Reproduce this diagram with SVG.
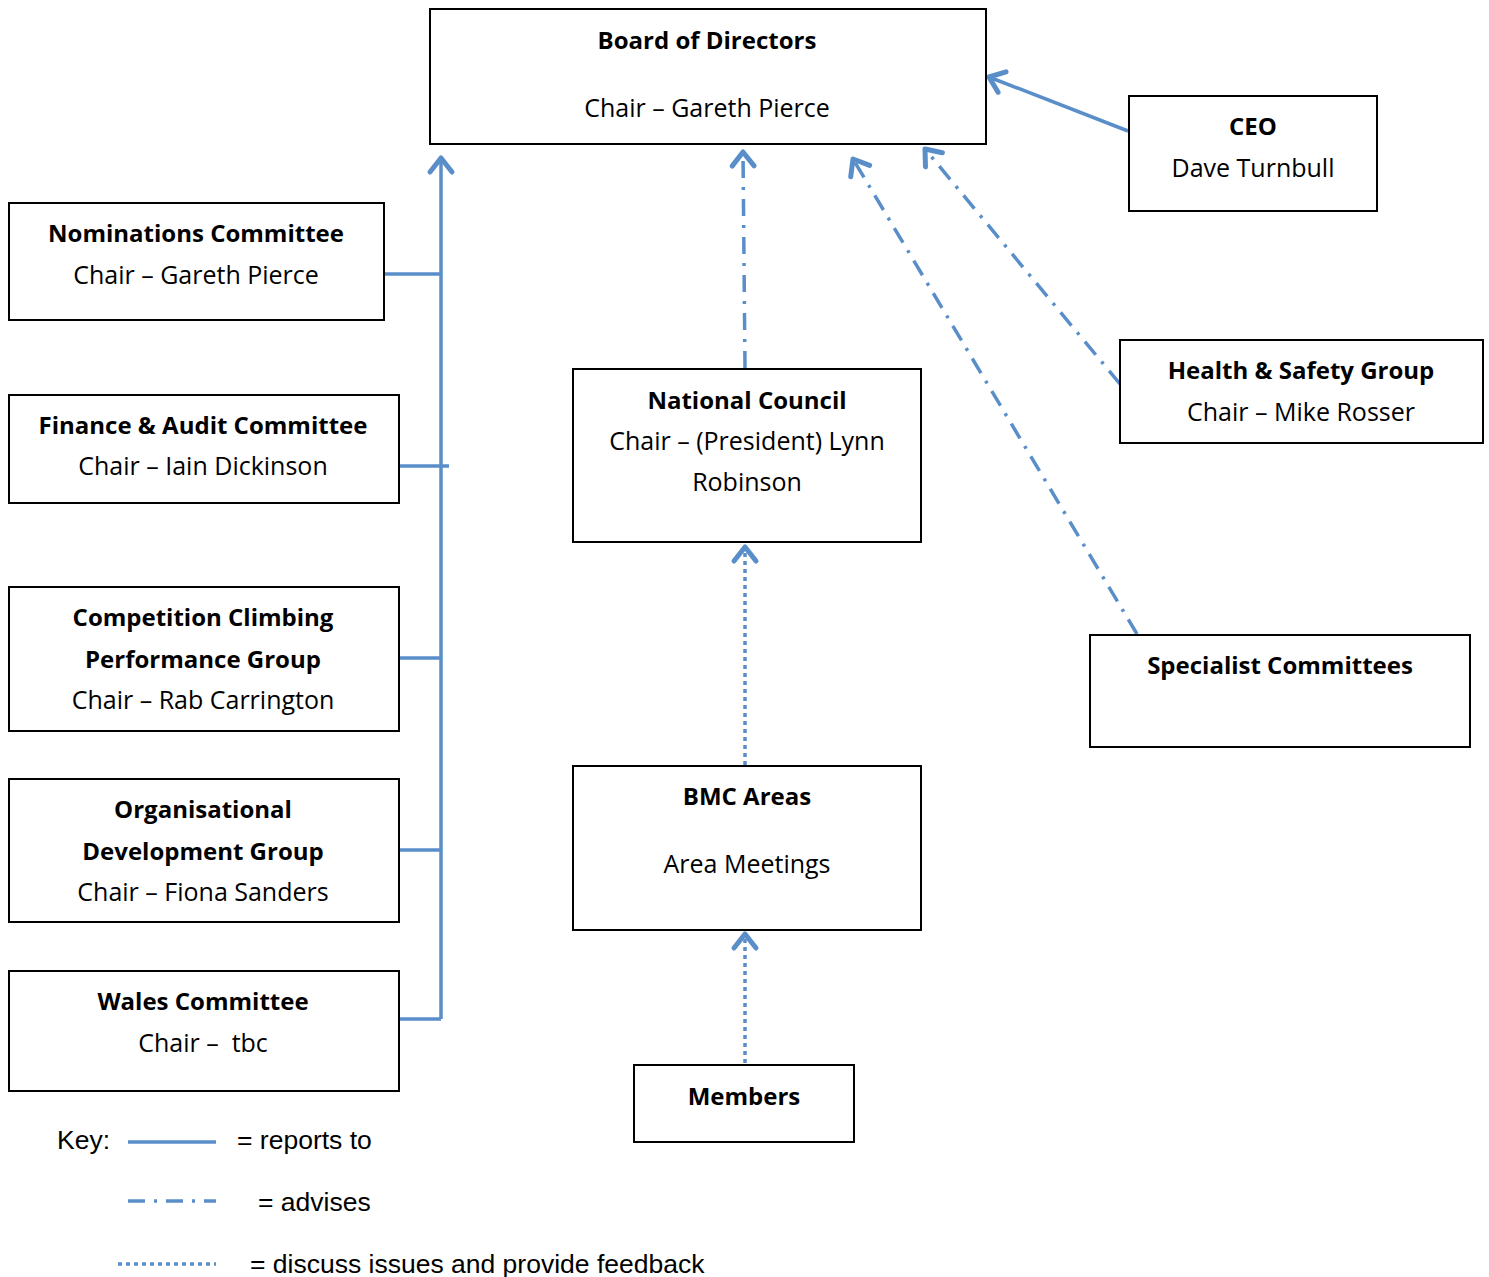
<svg xmlns="http://www.w3.org/2000/svg" width="1489" height="1277" viewBox="0 0 1489 1277">
<style>
.box{fill:#fff;stroke:#000;stroke-width:2}
.t{font-family:"Open Sans",Lato,"Liberation Sans",sans-serif;font-size:25px;fill:#000;text-anchor:middle;dominant-baseline:central}
.b{font-weight:bold;font-size:24px}
.k{font-family:"Liberation Sans",Arial,sans-serif;font-size:26.5px;fill:#000;dominant-baseline:central}
.c{fill:none;stroke:#5a8ec9;stroke-width:3.5}
.dd{stroke-dasharray:17 9 3 9}
.dot{stroke-dasharray:4 4}
</style>
<defs>
<marker id="ah" markerUnits="userSpaceOnUse" markerWidth="40" markerHeight="40" refX="0" refY="0" viewBox="-20 -20 40 40" orient="auto" overflow="visible">
<path d="M-14,-11 L0,0 L-14,11" fill="none" stroke="#5a8ec9" stroke-width="5" stroke-linecap="round" stroke-linejoin="round"/>
</marker>
</defs>
<rect width="1489" height="1277" fill="#fff"/>
<g id="connectors">
<path class="c" d="M441,1019 V158" marker-end="url(#ah)"/>
<path class="c" d="M370,274 H441"/>
<path class="c" d="M394,466 H449"/>
<path class="c" d="M394,658 H441"/>
<path class="c" d="M394,850 H441"/>
<path class="c" d="M394,1019 H441"/>
<path class="c" d="M1128,131 L989,77" marker-end="url(#ah)"/>
<path class="c dd" d="M745,368 L743,152" marker-end="url(#ah)"/>
<path class="c dd" d="M1137,634 L853,159" marker-end="url(#ah)"/>
<path class="c dd" d="M1120,384 L925,149" marker-end="url(#ah)"/>
<path class="c dot" d="M745,765 V547" marker-end="url(#ah)"/>
<path class="c dot" d="M745,1063 V934" marker-end="url(#ah)"/>
</g>
<g id="board"><rect class="box" x="430" y="9" width="556" height="135"/>
<text class="t b" x="707" y="39">Board of Directors</text>
<text class="t" x="707" y="107">Chair – Gareth Pierce</text></g>
<g id="ceo"><rect class="box" x="1129" y="96" width="248" height="115"/>
<text class="t b" x="1253" y="125">CEO</text>
<text class="t" x="1253" y="167">Dave Turnbull</text></g>
<g id="nominations"><rect class="box" x="9" y="203" width="375" height="117"/>
<text class="t b" x="196" y="232">Nominations Committee</text>
<text class="t" x="196" y="274">Chair – Gareth Pierce</text></g>
<g id="finance"><rect class="box" x="9" y="395" width="390" height="108"/>
<text class="t b" x="203" y="424">Finance &amp; Audit Committee</text>
<text class="t" x="203" y="465">Chair – Iain Dickinson</text></g>
<g id="competition"><rect class="box" x="9" y="587" width="390" height="144"/>
<text class="t b" x="203" y="616">Competition Climbing</text>
<text class="t b" x="203" y="658">Performance Group</text>
<text class="t" x="203" y="699">Chair – Rab Carrington</text></g>
<g id="orgdev"><rect class="box" x="9" y="779" width="390" height="143"/>
<text class="t b" x="203" y="808">Organisational</text>
<text class="t b" x="203" y="850">Development Group</text>
<text class="t" x="203" y="891">Chair – Fiona Sanders</text></g>
<g id="wales"><rect class="box" x="9" y="971" width="390" height="120"/>
<text class="t b" x="203" y="1000">Wales Committee</text>
<text class="t" x="203" y="1042" xml:space="preserve">Chair –  tbc</text></g>
<g id="national-council"><rect class="box" x="573" y="369" width="348" height="173"/>
<text class="t b" x="747" y="399">National Council</text>
<text class="t" x="747" y="440">Chair – (President) Lynn</text>
<text class="t" x="747" y="481">Robinson</text></g>
<g id="health-safety"><rect class="box" x="1120" y="340" width="363" height="103"/>
<text class="t b" x="1301" y="369">Health &amp; Safety Group</text>
<text class="t" x="1301" y="411">Chair – Mike Rosser</text></g>
<g id="specialist"><rect class="box" x="1090" y="635" width="380" height="112"/>
<text class="t b" x="1280" y="664">Specialist Committees</text></g>
<g id="bmc-areas"><rect class="box" x="573" y="766" width="348" height="164"/>
<text class="t b" x="747" y="795">BMC Areas</text>
<text class="t" x="747" y="863">Area Meetings</text></g>
<g id="members"><rect class="box" x="634" y="1065" width="220" height="77"/>
<text class="t b" x="744" y="1095">Members</text></g>
<g id="key">
<text class="k" x="57" y="1140">Key:</text>
<path class="c" d="M128,1142 H216"/>
<text class="k" x="237" y="1140">= reports to</text>
<path class="c" d="M128,1201 H216" stroke-dasharray="17 9 3 9"/>
<text class="k" x="258" y="1202">= advises</text>
<path class="c" d="M118,1264 H216" stroke-dasharray="4 4"/>
<text class="k" x="250" y="1264">= discuss issues and provide feedback</text>
</g>
</svg>
